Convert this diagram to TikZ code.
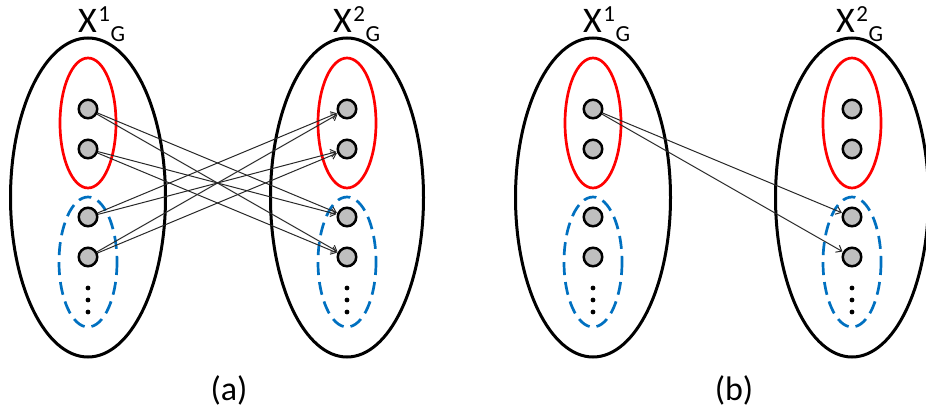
\documentclass[tikz,border=0pt]{standalone}
\usepackage{fontspec}
\setmainfont{Carlito}
\usetikzlibrary{arrows.meta}
\definecolor{offblue}{RGB}{0,112,192}
\definecolor{nodegray}{RGB}{191,191,191}
\definecolor{edgegray}{RGB}{40,40,40}
\tikzset{
  bigset/.style={draw=black,line width=3pt},
  redset/.style={draw=red,line width=2.7pt},
  blueset/.style={draw=offblue,line width=2.7pt,dash pattern=on 13pt off 7pt},
  elem/.style={circle,draw=black,fill=nodegray,line width=2.5pt,minimum size=18.5pt,inner sep=0pt},
  dotnode/.style={circle,fill=black,minimum size=4.8pt,inner sep=0pt},
  link/.style={draw=edgegray,line width=1pt,-{Straight Barb[length=5pt,width=8pt]},shorten >=0.5pt},
  setlabel/.style={anchor=base west,inner sep=0pt},
  caplabel/.style={anchor=base,inner sep=0pt,font=\fontsize{34}{34}\selectfont}
}
\newcommand{\setname}[1]{{\fontsize{36}{36}\selectfont X}\hspace{1.5pt}\raisebox{11pt}{\fontsize{23}{23}\selectfont #1}\hspace{0.5pt}\raisebox{-9pt}{\fontsize{23}{23}\selectfont G}}
\begin{document}
\begin{tikzpicture}[x=1pt,y=-1pt]
\useasboundingbox (0,0) rectangle (926,414);
% ---------- panel (a) ----------
\draw[bigset] (88,197.5) ellipse [x radius=77.5,y radius=159.5];
\draw[bigset] (347,197.5) ellipse [x radius=76.5,y radius=159.5];
\draw[redset] (88,123) ellipse [x radius=28,y radius=65];
\draw[redset] (347,123) ellipse [x radius=29,y radius=65];
\draw[blueset] (88,262) ellipse [x radius=29,y radius=65];
\draw[blueset] (347,262) ellipse [x radius=29,y radius=65];
\node[setlabel] (la1) at (78,33) {\setname{1}};
\node[setlabel] (la2) at (333,33) {\setname{2}};
\foreach \i/\y in {1/109,2/149,3/217,4/257}{
  \node[elem] (aL\i) at (88,\y) {};
  \node[elem] (aR\i) at (347,\y) {};
}
\foreach \y [count=\k] in {288,300,312}{
  \node[dotnode] (adL\k) at (88,\y) {};
  \node[dotnode] (adR\k) at (347,\y) {};
}
\path[link] (aL1) -- (aR3);
\path[link] (aL1) -- (aR4);
\path[link] (aL2) -- (aR3);
\path[link] (aL2) -- (aR4);
\path[link] (aL3) -- (aR1);
\path[link] (aL3) -- (aR2);
\path[link] (aL4) -- (aR1);
\path[link] (aL4) -- (aR2);
\node[caplabel] (capa) at (229,400) {(a)};
% ---------- panel (b) ----------
\begin{scope}[xshift=505pt]
\draw[bigset] (88,197.5) ellipse [x radius=77.5,y radius=159.5];
\draw[bigset] (347,197.5) ellipse [x radius=76.5,y radius=159.5];
\draw[redset] (88,123) ellipse [x radius=28,y radius=65];
\draw[redset] (347,123) ellipse [x radius=29,y radius=65];
\draw[blueset] (88,262) ellipse [x radius=29,y radius=65];
\draw[blueset] (347,262) ellipse [x radius=29,y radius=65];
\node[setlabel] (lb1) at (78,33) {\setname{1}};
\node[setlabel] (lb2) at (331,33) {\setname{2}};
\foreach \i/\y in {1/109,2/149,3/217,4/257}{
  \node[elem] (bL\i) at (88,\y) {};
  \node[elem] (bR\i) at (347,\y) {};
}
\foreach \y [count=\k] in {288,300,312}{
  \node[dotnode] (bdL\k) at (88,\y) {};
  \node[dotnode] (bdR\k) at (347,\y) {};
}
\path[link] (bL1) -- (bR3);
\path[link] (bL1) -- (bR4);
\node[caplabel] (capb) at (229,400) {(b)};
\end{scope}
\end{tikzpicture}
\end{document}
